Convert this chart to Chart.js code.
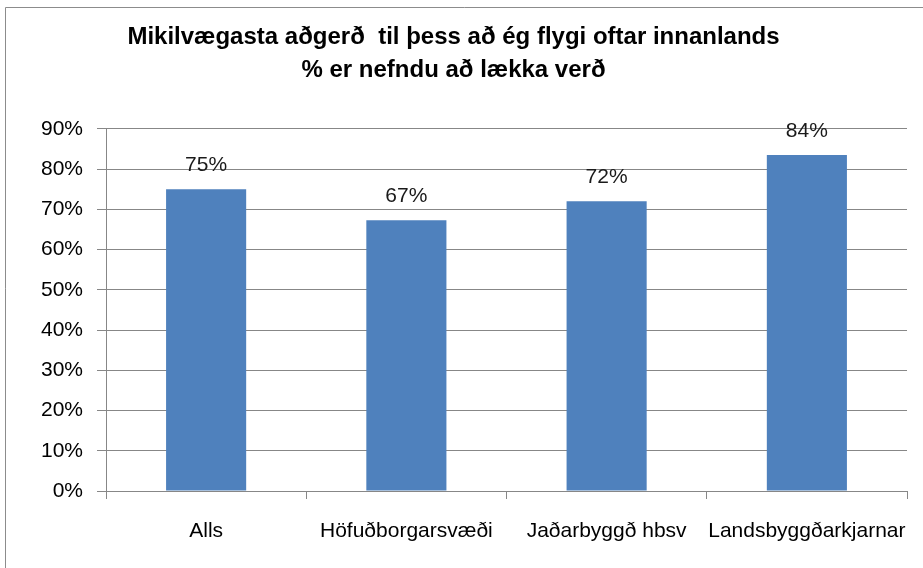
<!DOCTYPE html>
<html>
<head>
<meta charset="utf-8">
<script src="https://cdn.jsdelivr.net/npm/chart.js@4/dist/chart.umd.min.js"></script>
<style>
  html, body { margin: 0; padding: 0; background: #ffffff; }
  #wrap { position: relative; width: 923px; height: 568px; }
</style>
</head>
<body>
<div id="wrap"><canvas id="c" width="923" height="568"></canvas></div>
<script>
const titleLines = ['Mikilvægasta aðgerð  til þess að ég flygi oftar innanlands', '% er nefndu að lækka verð'];
const categories = ['Alls', 'Höfuðborgarsvæði', 'Jaðarbyggð hbsv', 'Landsbyggðarkjarnar'];
const values = [75.0, 67.3, 72.0, 83.5];
const yMin = 0, yMax = 90, yStep = 10;

const FONT = "'Liberation Sans', Arial, sans-serif";
const GRID = '#878787';

const frame = {
  id: 'frame',
  beforeDraw(chart) {
    const ctx = chart.ctx;
    ctx.save();
    ctx.fillStyle = '#ffffff';
    ctx.fillRect(0, 0, chart.width, chart.height);
    ctx.strokeStyle = '#8c8c8c';
    ctx.lineWidth = 1;
    ctx.beginPath();
    ctx.moveTo(5.5, chart.height + 2);
    ctx.lineTo(5.5, 7.5);
    ctx.lineTo(chart.width + 2, 7.5);
    ctx.stroke();
    ctx.restore();
  }
};

const valueLabels = {
  id: 'valueLabels',
  afterDatasetsDraw(chart) {
    const ctx = chart.ctx;
    const meta = chart.getDatasetMeta(0);
    ctx.save();
    ctx.font = '21px ' + FONT;
    ctx.fillStyle = '#1a1a1a';
    ctx.textAlign = 'center';
    ctx.textBaseline = 'middle';
    meta.data.forEach((bar, i) => {
      ctx.fillText(Math.round(values[i]) + '%', bar.x, bar.y - 24);
    });
    ctx.restore();
  }
};

new Chart(document.getElementById('c'), {
  type: 'bar',
  data: {
    labels: categories,
    datasets: [{
      data: values,
      backgroundColor: '#4F81BD',
      borderWidth: 0,
      categoryPercentage: 0.8,
      barPercentage: 0.5
    }]
  },
  options: {
    responsive: false,
    animation: false,
    devicePixelRatio: 1,
    layout: { padding: { left: 0, right: 16, top: 0, bottom: 0 } },
    plugins: {
      legend: { display: false },
      tooltip: { enabled: false },
      title: {
        display: true,
        text: titleLines,
        color: '#000000',
        font: { family: FONT, size: 24, weight: 'bold', lineHeight: 1.39 },
        padding: { top: 20.5, bottom: 41.7 }
      }
    },
    scales: {
      x: {
        offset: true,
        grid: {
          offset: true,
          drawOnChartArea: false,
          drawTicks: true,
          tickLength: 8,
          color: GRID
        },
        border: { display: true, color: GRID, width: 1 },
        ticks: {
          color: '#000000',
          font: { family: FONT, size: 21 },
          padding: 20,
          maxRotation: 0,
          minRotation: 0,
          autoSkip: false
        },
        afterFit(scale) {
          scale.height = 77;
          scale.paddingLeft = 0;
          scale.paddingRight = 0;
        }
      },
      y: {
        min: yMin,
        max: yMax,
        grid: {
          color: GRID,
          drawTicks: true,
          tickLength: 9
        },
        border: { display: true, color: GRID, width: 1 },
        ticks: {
          stepSize: yStep,
          color: '#000000',
          font: { family: FONT, size: 21 },
          padding: 14,
          callback: v => v + '%'
        },
        afterFit(scale) { scale.width = 106; }
      }
    }
  },
  plugins: [frame, valueLabels]
});
</script>
</body>
</html>
